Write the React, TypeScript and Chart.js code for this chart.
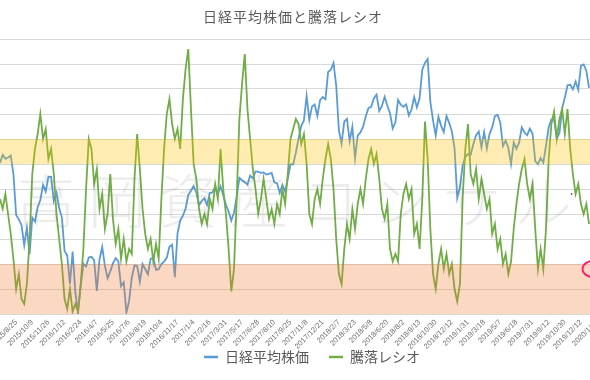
import React, { useEffect, useRef } from 'react';
import { Chart, registerables } from 'chart.js';

Chart.register(...registerables);

const FONT = '"Noto Sans CJK JP", "Noto Sans", sans-serif';

const chartTitle = '日経平均株価と騰落レシオ';
const seriesNames = ['日経平均株価', '騰落レシオ'];
const watermarkText = '高岡資産コンサルタント';

const tickLabels = [
  '2015/8/25', '2015/10/9', '2015/11/26', '2016/1/12', '2016/2/24', '2016/4/7', '2016/5/25',
  '2016/7/6', '2016/8/19', '2016/10/4', '2016/11/17', '2017/1/4', '2017/2/16', '2017/3/31',
  '2017/5/17', '2017/6/28', '2017/8/10', '2017/9/25', '2017/11/8', '2017/12/21', '2018/2/7',
  '2018/3/23', '2018/5/8', '2018/6/20', '2018/8/2', '2018/9/13', '2018/10/30', '2018/12/12',
  '2019/1/31', '2019/3/18', '2019/5/7', '2019/6/18', '2019/7/31', '2019/9/12', '2019/10/30',
  '2019/12/12', '2020/1/31',
];

// 日経平均株価 (weekly samples)
const nikkei = [
  20450, 20750, 20600, 20650, 20720, 20033, 18540, 18376, 18165, 17427,
  18070, 17100, 18438, 18291, 18825, 19083, 19642, 19394, 19944, 19939,
  19047, 19353, 18789, 18450, 17218, 17048, 16017, 17191, 15713, 14952,
  15915, 16747, 16642, 16974, 17000, 16878, 15750, 16911, 17363, 16666,
  16216, 16466, 16757, 16955, 16830, 15919, 16065, 14952, 15379, 16231,
  16681, 16664, 16083, 16735, 16545, 16360, 16925, 16965, 16519, 16544,
  16735, 16824, 16963, 17365, 17442, 16251, 17862, 18333, 18513, 18765,
  19273, 19427, 19594, 19364, 18894, 19057, 19148, 18908, 19347, 19371,
  19564, 19318, 19590, 19262, 18909, 18664, 18335, 18620, 19197, 19900,
  19814, 19742, 19650, 19984, 19883, 20138, 20130, 20081, 20098, 20020,
  20050, 20080, 19729, 19702, 19353, 19646, 19396, 19865, 20397, 20400,
  20823, 21336, 21805, 22011, 22913, 22028, 22523, 22597, 22177, 22758,
  22866, 22784, 23788, 23868, 24124, 23291, 21645, 21154, 21970, 22068,
  21252, 21777, 20617, 21454, 21568, 21778, 22162, 22467, 22509, 22818,
  22960, 22358, 22539, 22878, 22555, 22271, 21717, 21932, 22764, 22586,
  22512, 22598, 22192, 22410, 22869, 22487, 22821, 23870, 24120, 24270,
  22694, 22010, 21457, 22147, 21810, 21583, 22177, 21919, 21602, 20987,
  19155, 19562, 20360, 20666, 20773, 20751, 21140, 21464, 21602, 21025,
  21584, 20977, 21509, 21761, 22169, 22217, 21923, 21067, 21272, 21003,
  20408, 21204, 20972, 21193, 21754, 21565, 21469, 21709, 21521, 20516,
  20405, 20628, 20460, 21085, 21759, 22044, 22048, 21341, 21551, 22451,
  22843, 23303, 23319, 23148, 23437, 23135, 24023, 24066, 23837, 23204,
];

// 騰落レシオ (weekly samples)
const ratio = [
  106, 102, 108, 100, 92, 82, 70, 76, 66, 64,
  72, 90, 116, 126, 132, 140, 130, 134, 122, 126,
  116, 100, 90, 80, 66, 62, 70, 61, 64, 61,
  72, 86, 110, 130, 126, 112, 118, 102, 108, 94,
  100, 116, 98, 88, 94, 82, 90, 81, 86, 84,
  114, 132, 118, 102, 92, 86, 90, 81, 88, 82,
  106, 126, 140, 146, 136, 130, 134, 126, 146, 158,
  166, 142, 120, 114, 102, 96, 100, 96, 106, 102,
  112, 106, 126, 110, 100, 86, 69, 78, 106, 138,
  152, 164, 142, 130, 118, 110, 100, 106, 114, 106,
  98, 102, 96, 104, 100, 110, 104, 116, 130, 134,
  138, 136, 128, 132, 120, 100, 96, 106, 110, 104,
  114, 122, 128, 122, 110, 90, 76, 72, 86, 96,
  90, 102, 94, 104, 110, 104, 114, 122, 126, 120,
  124, 114, 102, 98, 104, 86, 81, 84, 81, 100,
  108, 112, 106, 110, 92, 96, 86, 106, 137, 122,
  94, 76, 70, 80, 86, 78, 84, 76, 80, 70,
  65, 72, 106, 126, 136, 116, 112, 118, 106, 114,
  108, 102, 106, 92, 96, 86, 90, 80, 84, 76,
  81, 94, 104, 112, 118, 122, 112, 106, 112, 94,
  78, 86, 78, 94, 122, 136, 141, 130, 138, 142,
  132, 142, 126, 116, 108, 112, 104, 100, 104, 96,
];

const ratioAxis = { min: 60, max: 170, step: 10 };
const nikkeiAxis = { min: 14900, max: 25000 };
const overheatBand = [120, 130];
const oversoldBand = [60, 80];

const LEAD = 6; // points before the first tick label
const PER_TICK = 6; // points between tick labels
const TOTAL = 233; // slots on the category axis
const labels = Array.from({ length: TOTAL }, (_, i) =>
  i >= LEAD && (i - LEAD) % PER_TICK === 0 ? tickLabels[(i - LEAD) / PER_TICK] ?? '' : ''
);

const BLUE = '#5B9BD5';
const GREEN = '#70AD47';

const overlayPlugin = {
  id: 'overlay',
  afterDatasetsDraw(chart: any) {
    const { ctx, chartArea: a, scales } = chart;
    const y = scales.y;
    ctx.save();
    ctx.beginPath();
    ctx.rect(a.left, a.top, a.right - a.left, a.bottom - a.top);
    ctx.clip();
    const band = (lo: number, hi: number, color: string) => {
      const y1 = y.getPixelForValue(hi);
      const y2 = y.getPixelForValue(lo);
      ctx.fillStyle = color;
      ctx.fillRect(a.left, y1, a.right - a.left, y2 - y1);
    };
    band(overheatBand[0], overheatBand[1], 'rgba(255,192,0,0.3)');
    band(oversoldBand[0], oversoldBand[1], 'rgba(237,125,49,0.3)');

    // watermark
    ctx.font = `300 58px ${FONT}`;
    (ctx as any).letterSpacing = '13px';
    ctx.fillStyle = 'rgba(110,110,110,0.12)';
    ctx.textBaseline = 'middle';
    ctx.textAlign = 'left';
    ctx.fillText(watermarkText, a.left + 17, a.top + 162);
    (ctx as any).letterSpacing = '0px';

    // pink marker circle at the right edge
    const cx = scales.x.getPixelForValue(221.8);
    const cy = y.getPixelForValue(78);
    ctx.strokeStyle = '#FF1F6F';
    ctx.lineWidth = 2;
    ctx.beginPath();
    ctx.ellipse(cx, cy, 14, 9, 0, 0, Math.PI * 2);
    ctx.stroke();
    ctx.fillStyle = '#FF1F6F';
    ctx.fillRect(scales.x.getPixelForValue(212.3), y.getPixelForValue(108.4), 1.2, 2);
    ctx.restore();
  },
  afterDraw(chart: any) {
    const { ctx } = chart;
    ctx.save();
    ctx.font = `14px ${FONT}`;
    (ctx as any).letterSpacing = '1px';
    ctx.fillStyle = '#595959';
    ctx.textAlign = 'center';
    ctx.textBaseline = 'middle';
    ctx.fillText(chartTitle, 293, 17);
    ctx.restore();
  },
};

export default function App() {
  const ref = useRef<HTMLCanvasElement>(null);

  useEffect(() => {
    const chart = new Chart(ref.current as HTMLCanvasElement, {
      type: 'line',
      data: {
        labels,
        datasets: [
          {
            label: seriesNames[0],
            data: nikkei,
            yAxisID: 'yN',
            borderColor: BLUE,
            backgroundColor: BLUE,
            borderWidth: 1.8,
            pointRadius: 0,
            tension: 0,
            order: 2,
          },
          {
            label: seriesNames[1],
            data: ratio,
            yAxisID: 'y',
            borderColor: GREEN,
            backgroundColor: GREEN,
            borderWidth: 1.8,
            pointRadius: 0,
            tension: 0,
            order: 1,
          },
        ],
      },
      options: {
        responsive: false,
        animation: false,
        devicePixelRatio: 1,
        layout: { padding: { top: 39, bottom: 6, left: 0, right: 0 } },
        plugins: {
          title: { display: false },
          tooltip: { enabled: false },
          legend: {
            position: 'bottom',
            labels: {
              boxWidth: 14,
              boxHeight: 2.5,
              padding: 20,
              color: '#595959',
              font: { family: FONT, size: 14 },
              sort: (a: any, b: any) => a.datasetIndex - b.datasetIndex,
              generateLabels: (c: any) =>
                (Chart.defaults.plugins.legend.labels as any)
                  .generateLabels(c)
                  .map((l: any) => ({ ...l, lineWidth: 0 })),
            },
          },
        },
        scales: {
          x: {
            type: 'category',
            offset: false,
            grid: { display: false, drawTicks: false },
            border: { display: false },
            ticks: {
              autoSkip: false,
              minRotation: 45,
              maxRotation: 45,
              padding: 4,
              color: '#707070',
              font: { family: '"Liberation Sans", Arial, sans-serif', size: 7.5 },
              callback: (_v: any, i: number) => labels[i],
            },
            afterFit: (s: any) => {
              const legendH = s.chart.legend ? s.chart.legend.height : 0;
              s.height = Math.max(0, s.chart.height - 6 - legendH - 314);
              s.paddingLeft = 0;
              s.paddingRight = 0;
              // let the rotated labels run below the (short) axis box
              s._computeLabelArea = () => undefined;
            },
          },
          y: {
            position: 'left',
            min: ratioAxis.min,
            max: ratioAxis.max,
            ticks: { display: false, stepSize: ratioAxis.step },
            grid: { color: '#d9d9d9', lineWidth: 1, drawTicks: false },
            border: { display: false },
          },
          yN: {
            position: 'right',
            display: false,
            min: nikkeiAxis.min,
            max: nikkeiAxis.max,
          },
        },
      },
      plugins: [overlayPlugin],
    });
    return () => chart.destroy();
  }, []);

  return (
    <div
      style={{
        position: 'fixed',
        left: 0,
        top: 0,
        width: 590,
        height: 380,
        overflow: 'hidden',
        background: '#ffffff',
      }}
    >
      <canvas
        ref={ref}
        width={624}
        height={380}
        style={{ position: 'absolute', left: 0, top: 0, width: 624, height: 380 }}
      />
    </div>
  );
}
